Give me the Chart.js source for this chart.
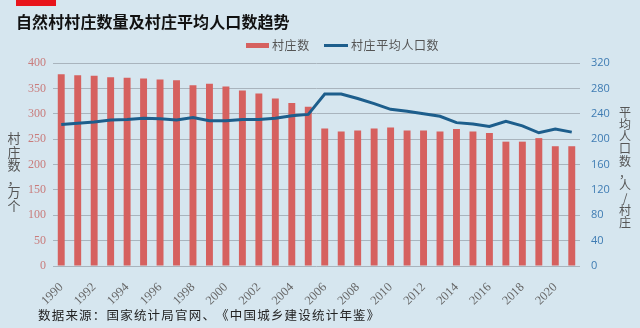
<!DOCTYPE html>
<html><head><meta charset="utf-8">
<script src="https://cdn.jsdelivr.net/npm/chart.js@4/dist/chart.umd.min.js"></script>
<style>html,body{margin:0;padding:0;background:#d6e6ef;}#wrap{width:640px;height:328px;}</style>
</head><body><div id="wrap"><canvas id="c" width="640" height="328"></canvas></div>
<script>
const years = ['1990','1991','1992','1993','1994','1995','1996','1997','1998','1999','2000','2001','2002','2003','2004','2005','2006','2007','2008','2009','2010','2011','2012','2013','2014','2015','2016','2017','2018','2019','2020','2021'];
const villages = [378,376,375,372,371,369.5,367.5,366,356,359,353.7,346,340,330,321,314,271,265,267,271,273,267,267,265,270,265,262,245,245,252,236,236];
const avgPop = [223,225,227,230,231,233,232,230,234,229,229,231,231,233,237,239,271,271,264,256,247,244,240,236,226,224,220,228,221,210,216,211];
const leftTicks = [0,50,100,150,200,250,300,350,400];
const rightTicks = [0,40,80,120,160,200,240,280,320];
const titleText = '自然村村庄数量及村庄平均人口数趋势';
const sourceText = '数据来源：国家统计局官网、《中国城乡建设统计年鉴》';
const leftTitle = '村庄数，万个';
const rightTitle = '平均人口数，人/村庄';
const seriesNames = ['村庄数','村庄平均人口数'];

const BAR = '#d6615f', LINE = '#1d5e8c';
const CJK = '"Noto Sans CJK SC", sans-serif';

function drawChars(ctx, s, x, y, step) {
  for (let i = 0; i < s.length; i++) ctx.fillText(s[i], x + i * step, y);
}
const deco = {
  id: 'deco',
  beforeDraw(chart) {
    const ctx = chart.ctx;
    ctx.save();
    ctx.fillStyle = '#d6e6ef';
    ctx.fillRect(0, 0, chart.width, chart.height);
    ctx.restore();
  },
  afterDraw(chart) {
    const ctx = chart.ctx;
    ctx.save();
    ctx.fillStyle = '#e8141b';
    ctx.fillRect(16, 0, 40, 6);
    ctx.fillStyle = '#111';
    ctx.font = 'bold 16px ' + CJK;
    ctx.textBaseline = 'middle';
    ctx.textAlign = 'left';
    drawChars(ctx, titleText, 16, 22, 16.1);
    // legend
    ctx.fillStyle = BAR;
    ctx.fillRect(246, 43, 23, 5);
    ctx.strokeStyle = LINE; ctx.lineWidth = 3;
    ctx.beginPath(); ctx.moveTo(324, 45.5); ctx.lineTo(348, 45.5); ctx.stroke();
    ctx.fillStyle = '#555';
    ctx.font = '12px ' + CJK;
    drawChars(ctx, seriesNames[0], 272, 45, 12.6);
    drawChars(ctx, seriesNames[1], 351, 45, 12.6);
    // source
    ctx.fillStyle = '#222';
    ctx.font = '12.5px ' + CJK;
    drawChars(ctx, sourceText, 38, 315, 13.7);
    // axis titles (vertical stacked)
    ctx.textAlign = 'center';
    ctx.fillStyle = '#555';
    ctx.font = '13px ' + CJK;
    for (let i = 0; i < leftTitle.length; i++) ctx.fillText(leftTitle[i], 14, 138 + i * 13.6);
    ctx.font = '12px ' + CJK;
    for (let i = 0; i < rightTitle.length; i++) ctx.fillText(rightTitle[i], 625, 112 + i * 12.3);
    ctx.restore();
  }
};

new Chart(document.getElementById('c'), {
  data: {
    labels: years,
    datasets: [
      { type: 'line', label: seriesNames[1], data: avgPop, yAxisID: 'y1', borderColor: LINE, backgroundColor: LINE, borderWidth: 3, pointRadius: 0, tension: 0, order: 0 },
      { type: 'bar', label: seriesNames[0], data: villages, yAxisID: 'y', backgroundColor: BAR, barPercentage: 0.42, categoryPercentage: 1, order: 1 }
    ]
  },
  options: {
    responsive: false,
    animation: false,
    layout: { padding: { top: 63, left: 0, right: 0, bottom: 0 } },
    plugins: { legend: { display: false }, title: { display: false }, tooltip: { enabled: false } },
    scales: {
      x: {
        grid: { display: false },
        border: { display: false },
        ticks: {
          autoSkip: false, maxRotation: 45, minRotation: 45, padding: 6,
          color: '#666', font: { family: '"Liberation Serif", serif', size: 12.5 },
          callback: (v, i) => (i % 2 === 0 ? years[i] : '')
        },
        afterFit: s => { s.height = 62; }
      },
      y: {
        position: 'left', min: 0, max: 400,
        afterBuildTicks: s => { s.ticks = leftTicks.map(v => ({ value: v })); },
        grid: { color: '#a9b4bd', lineWidth: 1, drawTicks: false },
        border: { display: false },
        ticks: { padding: 7, color: '#c97c7c', font: { family: '"Liberation Serif", serif', size: 12 } },
        afterFit: s => { s.width = 53; }
      },
      y1: {
        position: 'right', min: 0, max: 320,
        afterBuildTicks: s => { s.ticks = rightTicks.map(v => ({ value: v })); },
        grid: { display: false, drawTicks: false },
        border: { display: false },
        ticks: { padding: 11, color: '#3f7cb3', font: { family: '"Open Sans", sans-serif', size: 11 } },
        afterFit: s => { s.width = 60; }
      }
    }
  },
  plugins: [deco]
});
</script>
</body></html>
